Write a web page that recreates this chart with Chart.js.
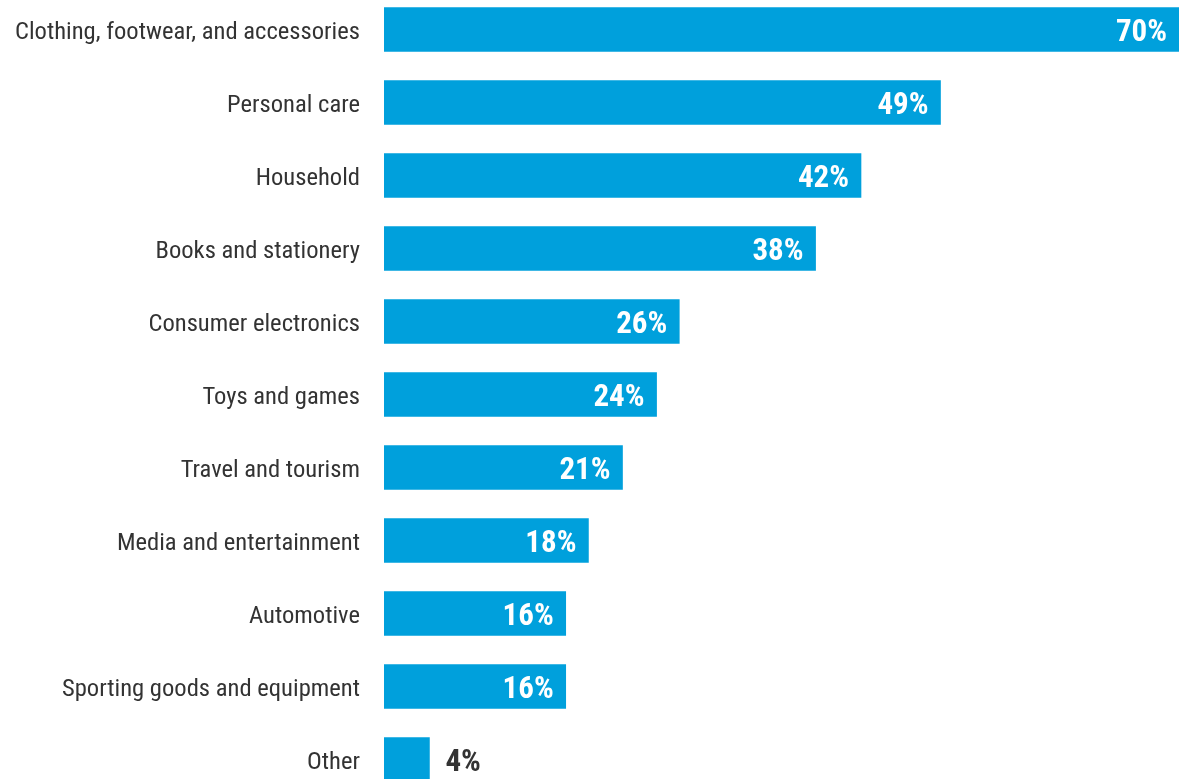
<!DOCTYPE html>
<html>
<head>
<meta charset="utf-8">
<script src="https://cdn.jsdelivr.net/npm/chart.js@4/dist/chart.umd.min.js"></script>
<style>
    html, body { margin: 0; padding: 0; background: #ffffff; overflow: hidden; }
    #wrap { position: absolute; left: 0; top: -7px; width: 1179px; height: 803px; }
</style>
</head>
<body>
<div id="wrap"><canvas id="categoryChart"></canvas></div>
<script>
    var categories = [
        'Clothing, footwear, and accessories',
        'Personal care',
        'Household',
        'Books and stationery',
        'Consumer electronics',
        'Toys and games',
        'Travel and tourism',
        'Media and entertainment',
        'Automotive',
        'Sporting goods and equipment',
        'Other'
    ];
    var shares = [70, 49, 42, 38, 26, 24, 21, 18, 16, 16, 4];

    var barColor = '#00a0dc';
    var textColor = '#333333';
    var fontFamily = '"Liberation Sans Narrow", "Arial Narrow", "Roboto Condensed", "Liberation Sans", Arial, sans-serif';

    // percentage labels: white inside the bar end, dark outside for short bars
    var valueLabels = {
        id: 'valueLabels',
        afterDatasetsDraw: function (chart) {
            var ctx = chart.ctx;
            var meta = chart.getDatasetMeta(0);
            ctx.save();
            ctx.font = 'bold 31px ' + fontFamily;
            ctx.textBaseline = 'middle';
            meta.data.forEach(function (bar, i) {
                var text = shares[i] + '%';
                var w = bar.x - bar.base;
                var tw = ctx.measureText(text).width;
                if (w > tw + 30) {
                    ctx.fillStyle = '#ffffff';
                    ctx.textAlign = 'right';
                    ctx.fillText(text, bar.x - 12, bar.y + 4);
                } else {
                    ctx.fillStyle = textColor;
                    ctx.textAlign = 'left';
                    ctx.fillText(text, bar.x + 16, bar.y + 4);
                }
            });
            ctx.restore();
        }
    };

    new Chart(document.getElementById('categoryChart'), {
        type: 'bar',
        data: {
            labels: categories,
            datasets: [{
                data: shares,
                backgroundColor: barColor,
                borderWidth: 0,
                barThickness: 44
            }]
        },
        options: {
            indexAxis: 'y',
            responsive: true,
            maintainAspectRatio: false,
            animation: false,
            layout: { padding: 0 },
            plugins: {
                legend: { display: false },
                tooltip: { enabled: false }
            },
            scales: {
                x: {
                    display: false,
                    min: 0,
                    max: 70
                },
                y: {
                    grid: { display: false, drawTicks: false },
                    border: { display: false },
                    ticks: {
                        color: textColor,
                        padding: 24,
                        labelOffset: 3,
                        font: { family: fontFamily, size: 24.6 }
                    },
                    afterFit: function (scale) {
                        // fixed label column; bars run edge to edge vertically
                        scale.width = 384;
                        scale.paddingTop = 0;
                        scale.paddingBottom = 0;
                    }
                }
            }
        },
        plugins: [valueLabels]
    });
</script>
</body>
</html>
